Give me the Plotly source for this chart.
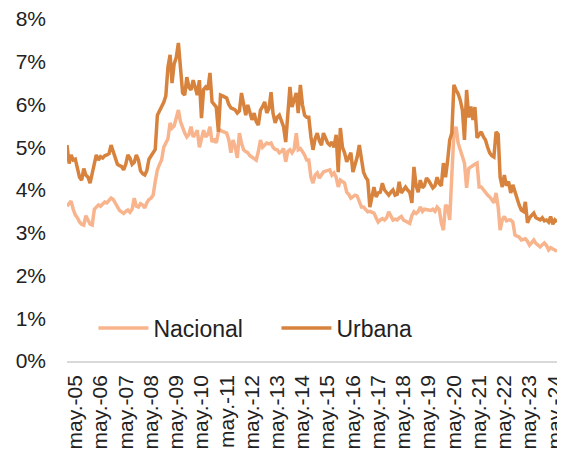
import pandas as pd
import plotly.graph_objects as go

# Monthly series, Jan-2005 .. Jun-2024 (percent), 234 values each
nacional = [
    3.62, 3.70, 3.74, 3.55, 3.42, 3.35, 3.25, 3.20, 3.18, 3.40, 3.30, 3.20,
    3.18, 3.55, 3.60, 3.65, 3.62, 3.68, 3.72, 3.70, 3.75, 3.81, 3.78, 3.70,
    3.58, 3.52, 3.49, 3.45, 3.50, 3.53, 3.48, 3.55, 3.81, 3.62, 3.60, 3.68, 3.65,
    3.58, 3.70, 3.78, 3.81, 3.88, 4.20, 4.47, 4.60, 4.70, 5.00, 5.10, 5.20,
    5.57, 5.45, 5.50, 5.70, 5.87, 5.60, 5.45, 5.33, 5.24, 5.30, 5.48, 5.24,
    5.30, 5.40, 5.00, 5.20, 5.40, 5.24, 5.30, 5.48, 5.12, 5.20, 5.10, 5.35,
    5.40, 5.37, 5.35, 5.33, 5.17, 4.87, 5.17, 5.00, 4.75, 5.33, 5.10, 4.94, 4.90,
    4.87, 4.80, 4.77, 4.72, 4.70, 4.90, 5.17, 5.00, 5.05, 5.10, 5.08, 5.10,
    5.00, 4.95, 4.94, 4.87, 4.90, 4.97, 4.66, 4.90, 4.94, 4.87, 4.95, 5.33,
    4.94, 4.97, 4.90, 4.82, 4.70, 4.70, 4.30, 4.16, 4.35, 4.40, 4.28, 4.35,
    4.42, 4.44, 4.45, 4.47, 4.35, 4.40, 4.30, 4.07, 4.23, 4.20, 4.16, 3.95, 3.90,
    3.81, 3.85, 3.88, 3.86, 3.70, 3.60, 3.60, 3.55, 3.49, 3.50, 3.48, 3.46,
    3.35, 3.25, 3.30, 3.33, 3.30, 3.35, 3.49, 3.38, 3.30, 3.32, 3.30, 3.35,
    3.38, 3.30, 3.28, 3.25, 3.22, 3.40, 3.49, 3.45, 3.50, 3.60, 3.50, 3.55,
    3.55, 3.53, 3.52, 3.55, 3.50, 3.60, 3.55, 3.23, 3.06, 3.65, 3.60, 3.30, 4.35,
    5.30, 5.48, 5.10, 4.94, 4.80, 4.63, 4.05, 4.50, 4.54, 4.58, 4.60, 4.63,
    4.07, 4.07, 4.00, 3.95, 3.88, 3.84, 3.77, 3.70, 3.93, 3.60, 3.06, 3.30,
    3.38, 3.28, 3.30, 3.30, 3.25, 2.95, 2.92, 2.90, 2.83, 2.85, 2.86, 2.80,
    2.71, 2.77, 2.83, 2.75, 2.71, 2.67, 2.72, 2.76, 2.70, 2.60, 2.65, 2.62, 2.58,
    2.57,
]

urbana = [
    5.05, 4.62, 4.82, 4.70, 4.72, 4.47, 4.30, 4.23, 4.50, 4.35, 4.30, 4.16,
    4.40, 4.65, 4.82, 4.70, 4.78, 4.75, 4.80, 4.82, 4.85, 5.05, 4.90, 4.75,
    4.60, 4.57, 4.55, 4.47, 4.60, 4.82, 4.75, 4.60, 4.65, 4.82, 4.70, 4.45, 4.38,
    4.35, 4.45, 4.72, 4.80, 4.85, 4.95, 5.75, 5.85, 5.95, 6.05, 6.20, 6.88,
    7.16, 6.50, 6.95, 7.10, 7.44, 6.90, 6.27, 6.22, 6.64, 6.40, 6.34, 6.57,
    6.40, 6.22, 6.57, 5.68, 6.35, 6.41, 6.35, 6.74, 6.06, 6.00, 5.94, 5.36,
    6.22, 6.20, 6.18, 6.15, 6.00, 5.92, 5.90, 5.87, 5.80, 5.85, 6.27, 5.95, 5.75,
    5.99, 5.80, 5.64, 5.80, 5.60, 5.52, 5.87, 5.95, 6.06, 5.80, 5.90, 6.29,
    5.80, 5.57, 5.70, 5.75, 5.60, 5.48, 5.12, 5.70, 6.41, 5.94, 6.10, 6.27,
    5.80, 6.46, 6.00, 5.75, 5.70, 5.70, 5.24, 4.94, 5.20, 5.33, 5.15, 5.05,
    5.33, 5.20, 5.10, 5.05, 5.12, 5.00, 5.29, 4.42, 5.45, 5.00, 4.87, 4.66, 4.75,
    4.87, 4.42, 4.60, 4.77, 5.05, 4.70, 4.42, 4.30, 4.23, 3.60, 3.90, 4.07,
    3.84, 3.93, 3.95, 4.16, 4.00, 3.95, 3.88, 3.95, 4.00, 3.88, 3.90, 4.19,
    3.93, 4.00, 4.07, 4.00, 3.95, 3.70, 4.54, 4.10, 3.95, 4.23, 4.05, 4.10,
    4.28, 4.22, 4.15, 4.05, 4.10, 4.30, 4.15, 4.10, 4.63, 4.30, 4.70, 5.17, 5.33,
    6.46, 6.34, 6.25, 6.10, 5.87, 5.17, 6.34, 5.70, 5.95, 5.64, 5.94, 5.22,
    5.30, 5.36, 5.25, 5.17, 5.00, 4.87, 4.80, 4.77, 5.36, 5.30, 4.30, 4.07,
    4.35, 4.10, 4.20, 3.93, 4.12, 3.95, 3.77, 3.65, 3.53, 3.50, 3.72, 3.23,
    3.35, 3.40, 3.46, 3.35, 3.32, 3.30, 3.35, 3.28, 3.30, 3.25, 3.38, 3.20, 3.30,
    3.25,
]

dates = pd.date_range("2005-01-01", periods=len(urbana), freq="MS")

tick_years = list(range(2005, 2025))
tick_vals = [f"{y}-05-01" for y in tick_years]
tick_text = [f"may.-{y % 100:02d}" for y in tick_years]

y_ticks = [0, 1, 2, 3, 4, 5, 6, 7, 8]

C_NAC = "#F8B48D"
C_URB = "#D8833D"
FONT = "Liberation Sans, Arial, sans-serif"

fig = go.Figure()
fig.add_trace(go.Scatter(x=dates, y=nacional, mode="lines", name="Nacional",
                         line=dict(color=C_NAC, width=3.5)))
fig.add_trace(go.Scatter(x=dates, y=urbana, mode="lines", name="Urbana",
                         line=dict(color=C_URB, width=3.5)))

# page body has an 8px default margin, so the figure is sized/offset for it
fig.update_layout(
    width=557, height=450,
    margin=dict(l=59, r=8, t=11, b=97, autoexpand=False),
    paper_bgcolor="white", plot_bgcolor="white",
    font=dict(family=FONT, size=21, color="#222222"),
    showlegend=True,
    legend=dict(orientation="h", x=0.054, y=0.096, xanchor="left", yanchor="middle",
                bgcolor="rgba(255,255,255,0)", font=dict(size=23),
                itemwidth=50, tracegroupgap=0, entrywidth=118),
)
fig.update_xaxes(
    range=[dates[0], dates[-1]], automargin=False,
    tickmode="array", tickvals=tick_vals, ticktext=tick_text,
    tickangle=-90, showgrid=False, zeroline=False,
    showline=True, linecolor="#D9D9D9", linewidth=1.5,
    ticks="", ticklabeloverflow="allow", ticklabelstandoff=4,
    tickfont=dict(size=21, family=FONT, color="#222222"),
)
fig.update_yaxes(
    range=[0, 8], automargin=False, tickmode="array", tickvals=y_ticks,
    ticktext=[f"{v}%" for v in y_ticks],
    showgrid=False, zeroline=False, showline=False, ticks="",
    ticklabelstandoff=20, ticklabeloverflow="allow",
    tickfont=dict(size=21, family=FONT, color="#222222"),
)

fig.write_html("out.html")
